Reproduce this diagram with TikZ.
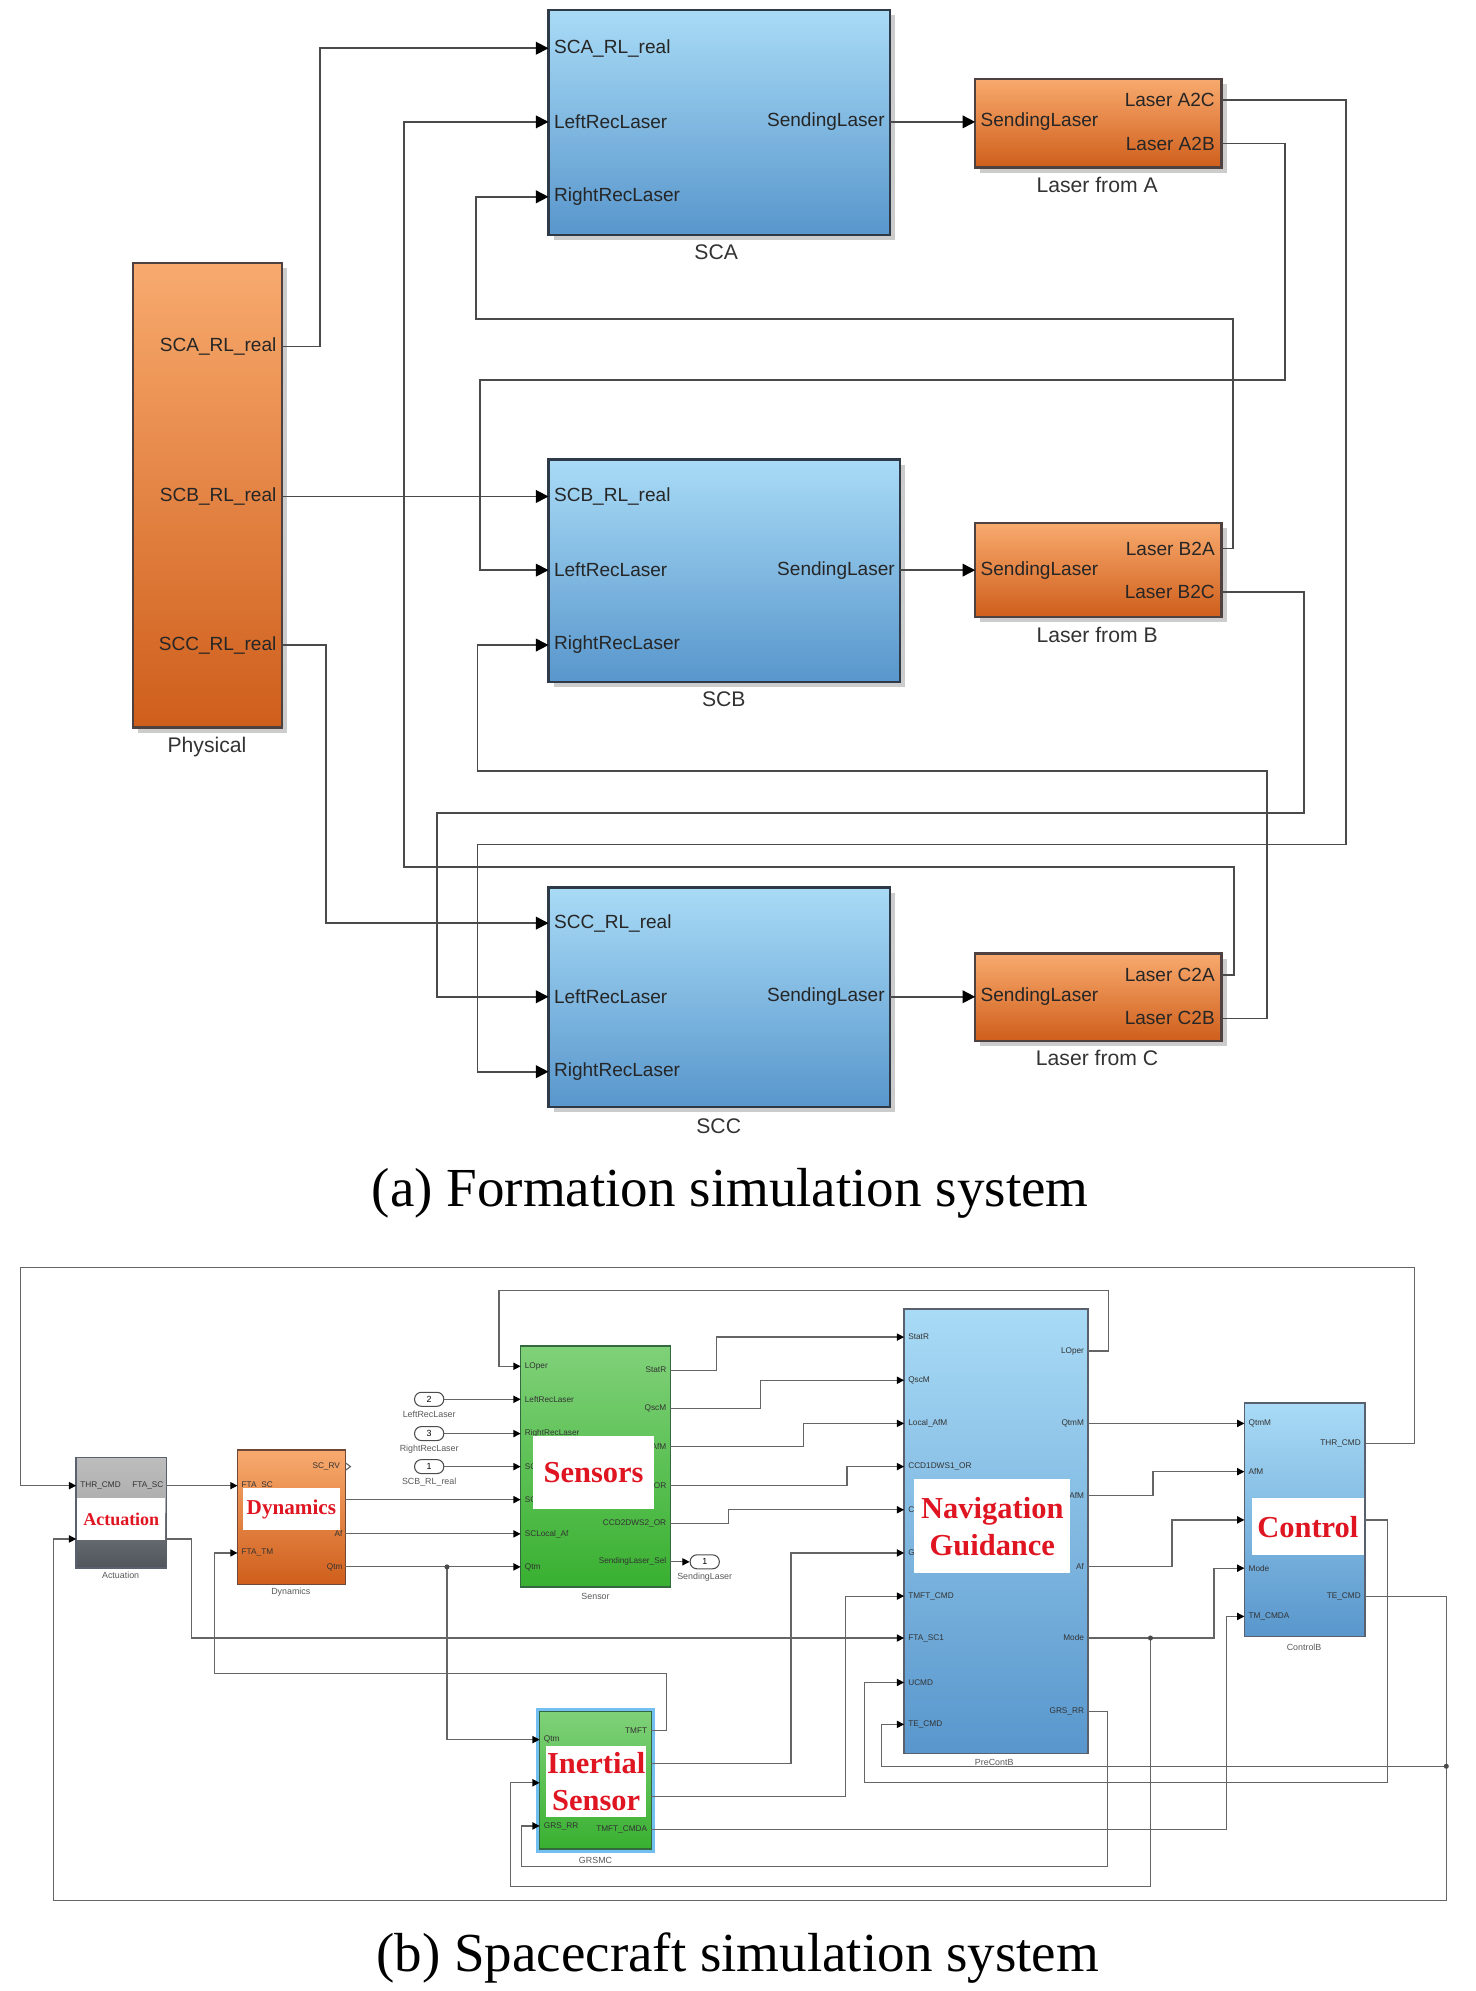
\documentclass[tikz,border=0pt]{standalone}
\usepackage{fontspec}
\setmainfont{Liberation Serif}
\setsansfont{Liberation Sans}
\usetikzlibrary{arrows.meta,fit,calc}
\definecolor{bluT}{HTML}{A9DBF6}
\definecolor{bluB}{HTML}{5896CC}
\definecolor{orT}{HTML}{F8AA6E}
\definecolor{orB}{HTML}{CF5E1B}
\definecolor{grT}{HTML}{80D179}
\definecolor{grB}{HTML}{38B030}
\definecolor{edg}{HTML}{2E3A48}
\definecolor{redl}{HTML}{E01522}
\definecolor{wire}{HTML}{4A4A4A}
\definecolor{hl}{HTML}{74BFF2}
\definecolor{acT}{HTML}{BDBDBD}
\definecolor{acM}{HTML}{767B82}
\definecolor{acB}{HTML}{50555C}
\newcommand{\blockA}[6]{%
  \fill[black!20] (#2+4,#3+4) rectangle (#4+4,#5+4);
  \node[fit={(#2,#3)(#4,#5)}, #6] (#1) {};}
\begin{document}
\begin{tikzpicture}[x=0.6pt,y=-0.6pt,
 pa/.style={font=\sffamily\fontsize{9}{10}\selectfont, inner sep=0pt, text=black!85},
 la/.style={font=\sffamily\fontsize{10}{12}\selectfont, inner sep=0pt, text=black!80},
 pb/.style={font=\sffamily\fontsize{3.9}{4.5}\selectfont, inner sep=0pt, text=black!80},
 lb/.style={font=\sffamily\fontsize{4.2}{5}\selectfont, inner sep=0pt, text=black!65},
 rl/.style={text=redl, inner sep=0pt, align=center},
 captxt/.style={font=\rmfamily\fontsize{26}{30}\selectfont, inner sep=0pt},
 wa/.style={draw=wire, line width=0.8pt, -{Triangle[length=6pt,width=6pt,color=black]}},
 wan/.style={draw=wire, line width=0.8pt},
 wb/.style={draw=wire!85, line width=0.55pt, -{Triangle[length=3.4pt,width=3.4pt,color=black]}},
 wbn/.style={draw=wire!85, line width=0.55pt},
 blu/.style={draw=edg, line width=1.1pt, top color=bluT, bottom color=bluB, inner sep=0pt},
 ora/.style={draw=edg!80!orB, line width=1.1pt, top color=orT, bottom color=orB, inner sep=0pt},
 blub/.style={draw=edg!80, line width=0.7pt, top color=bluT, bottom color=bluB, inner sep=0pt},
 orab/.style={draw=edg!60!orB, line width=0.7pt, top color=orT, bottom color=orB, inner sep=0pt},
 grn/.style={draw=edg!60!grB, line width=0.7pt, top color=grT, bottom color=grB, inner sep=0pt},
 wbox/.style={fill=white, inner sep=0pt},
 ioport/.style={draw=black!70, line width=0.5pt, rounded corners=3.2pt, minimum width=13.8pt, minimum height=6.6pt, inner sep=0pt, font=\sffamily\fontsize{4.2}{5}\selectfont},
 dot/.style={circle, fill=wire, inner sep=0pt, minimum size=2.4pt}
]
\useasboundingbox (0,0) rectangle (1162,1568);

% ================= (a) =================
\blockA{phy}{105}{207}{222}{573}{ora}
\node[pa,anchor=east] (phyl1) at (218,273) {SCA\_RL\_real};
\node[pa,anchor=east] (phyl2) at (218,391) {SCB\_RL\_real};
\node[pa,anchor=east] (phyl3) at (218,508) {SCC\_RL\_real};
\node[la] (phyn) at (163,588) {Physical};

\blockA{sca}{432}{8}{701}{185}{blu}
\node[pa,anchor=west] (scal1) at (436,38) {SCA\_RL\_real};
\node[pa,anchor=west] (scal2) at (436,96) {LeftRecLaser};
\node[pa,anchor=west] (scal3) at (436,155) {RightRecLaser};
\node[pa,anchor=east] (scal4) at (697,96) {SendingLaser};
\node[la] (scan) at (564,199) {SCA};

\blockA{scb}{432}{362}{709}{537}{blu}
\node[pa,anchor=west] (scbl1) at (436,391) {SCB\_RL\_real};
\node[pa,anchor=west] (scbl2) at (436,449) {LeftRecLaser};
\node[pa,anchor=west] (scbl3) at (436,508) {RightRecLaser};
\node[pa,anchor=east] (scbl4) at (705,449) {SendingLaser};
\node[la] (scbn) at (570,551) {SCB};

\blockA{scc}{432}{699}{701}{872}{blu}
\node[pa,anchor=west] (sccl1) at (436,727) {SCC\_RL\_real};
\node[pa,anchor=west] (sccl2) at (436,785) {LeftRecLaser};
\node[pa,anchor=west] (sccl3) at (436,844) {RightRecLaser};
\node[pa,anchor=east] (sccl4) at (697,785) {SendingLaser};
\node[la] (sccn) at (566,887) {SCC};

\blockA{lsa}{768}{62}{962}{132}{ora}
\node[pa,anchor=west] (lsal1) at (772,96) {SendingLaser};
\node[pa,anchor=east] (lsal2) at (957,79) {Laser A2C};
\node[pa,anchor=east] (lsal3) at (957,113) {Laser A2B};
\node[la] (lsan) at (864,146) {Laser from A};

\blockA{lsb}{768}{412}{962}{486}{ora}
\node[pa,anchor=west] (lsbl1) at (772,449) {SendingLaser};
\node[pa,anchor=east] (lsbl2) at (957,432) {Laser B2A};
\node[pa,anchor=east] (lsbl3) at (957,466) {Laser B2C};
\node[la] (lsbn) at (864,500) {Laser from B};

\blockA{lsc}{768}{751}{962}{820}{ora}
\node[pa,anchor=west] (lscl1) at (772,785) {SendingLaser};
\node[pa,anchor=east] (lscl2) at (957,768) {Laser C2A};
\node[pa,anchor=east] (lscl3) at (957,802) {Laser C2B};
\node[la] (lscn) at (864,833) {Laser from C};

% ports (a)
\coordinate (phyo1) at (222,273); \coordinate (phyo2) at (222,391); \coordinate (phyo3) at (222,508);
\coordinate (scai1) at (432,38); \coordinate (scai2) at (432,96); \coordinate (scai3) at (432,155); \coordinate (scao) at (701,96);
\coordinate (scbi1) at (432,391); \coordinate (scbi2) at (432,449); \coordinate (scbi3) at (432,508); \coordinate (scbo) at (709,449);
\coordinate (scci1) at (432,727); \coordinate (scci2) at (432,785); \coordinate (scci3) at (432,844); \coordinate (scco) at (701,785);
\coordinate (lsai) at (768,96); \coordinate (lsao1) at (962,79); \coordinate (lsao2) at (962,113);
\coordinate (lsbi) at (768,449); \coordinate (lsbo1) at (962,432); \coordinate (lsbo2) at (962,466);
\coordinate (lsci) at (768,785); \coordinate (lsco1) at (962,768); \coordinate (lsco2) at (962,802);

\draw[wa] (phyo1) -| (252,38) -- (scai1);
\draw[wa] (phyo2) -- (scbi1);
\draw[wa] (phyo3) -| (257,727) -- (scci1);
\draw[wa] (scao) -- (lsai);
\draw[wa] (scbo) -- (lsbi);
\draw[wa] (scco) -- (lsci);
\draw[wa] (lsao1) -| (1060,665) -| (376,844) -- (scci3);
\draw[wa] (lsao2) -| (1012,299) -| (378,449) -- (scbi2);
\draw[wa] (lsbo1) -| (971,251) -| (375,155) -- (scai3);
\draw[wa] (lsbo2) -| (1027,640) -| (344,785) -- (scci2);
\draw[wa] (lsco1) -| (972,683) -| (318,96) -- (scai2);
\draw[wa] (lsco2) -| (998,607) -| (376,508) -- (scbi3);

\node[captxt,anchor=base] (capa) at (575,950) {(a) Formation simulation system};

% ================= (b) =================
% Actuation
\fill[top color=acT, bottom color=acT!90!black] (60,1148) rectangle (131,1192);
\fill[top color=acM, bottom color=acB] (60,1192) rectangle (131,1235);
\node[fit={(60,1148)(131,1235)}, draw=edg!80, line width=0.7pt, inner sep=0pt] (act) {};
\node[pb,anchor=west] (actl1) at (63,1170) {THR\_CMD};
\node[pb,anchor=east] (actl2) at (129,1170) {FTA\_SC};
\node[fit={(61,1180)(130,1213)}, wbox] (actw) {};
\node[rl,font=\rmfamily\bfseries\fontsize{8.5}{9}\selectfont] (actt) at (actw.center) {Actuation};
\node[lb] (actn) at (95,1241) {Actuation};

% Dynamics
\node[fit={(187,1142)(272,1248)}, orab] (dyn) {};
\node[pb,anchor=east] (dynl1) at (268,1155) {SC\_RV};
\node[pb,anchor=west] (dynl2) at (190,1170) {FTA\_SC};
\node[pb,anchor=east] (dynl3) at (270,1208) {Af};
\node[pb,anchor=west] (dynl4) at (190,1223) {FTA\_TM};
\node[pb,anchor=east] (dynl5) at (270,1234) {Qtm};
\node[fit={(191,1172)(268,1205)}, wbox] (dynw) {};
\node[rl,font=\rmfamily\bfseries\fontsize{10}{11}\selectfont] (dynt) at (dynw.center) {Dynamics};
\node[lb] (dynn) at (229,1254) {Dynamics};
\draw[wbn] (272,1152) -- (276,1155) -- (272,1158);

% Sensor
\node[fit={(410,1060)(528,1250)}, grn] (sen) {};
\node[pb,anchor=west] (senl1) at (413,1076) {LOper};
\node[pb,anchor=west] (senl2) at (413,1102) {LeftRecLaser};
\node[pb,anchor=west] (senl3) at (413,1129) {RightRecLaser};
\node[pb,anchor=west] (senl4) at (413,1155) {SC};
\node[pb,anchor=west] (senl5) at (413,1181) {SC};
\node[pb,anchor=west] (senl6) at (413,1208) {SCLocal\_Af};
\node[pb,anchor=west] (senl7) at (413,1234) {Qtm};
\node[pb,anchor=east] (senr1) at (525,1079) {StatR};
\node[pb,anchor=east] (senr2) at (525,1109) {QscM};
\node[pb,anchor=east] (senr3) at (525,1139) {AfM};
\node[pb,anchor=east] (senr4) at (525,1170) {OR};
\node[pb,anchor=east] (senr5) at (525,1200) {CCD2DWS2\_OR};
\node[pb,anchor=east] (senr6) at (525,1230) {SendingLaser\_Sel};
\node[fit={(420,1131)(515,1188)}, wbox] (senw) {};
\node[rl,font=\rmfamily\bfseries\fontsize{14.4}{15}\selectfont] (sent) at (senw.center) {Sensors};
\node[lb] (senn) at (469,1257) {Sensor};

% GRSMC
\node[fit={(422,1345)(516,1459)}, fill=hl, inner sep=0pt] (grsh) {};
\node[fit={(425,1348)(513,1456)}, grn] (grs) {};
\node[pb,anchor=west] (grsl1) at (428,1370) {Qtm};
\node[pb,anchor=west] (grsl3) at (428,1438) {GRS\_RR};
\node[pb,anchor=east] (grsr1) at (510,1363) {TMFT};
\node[pb,anchor=east] (grsr4) at (510,1441) {TMFT\_CMDA};
\node[fit={(430,1375)(509,1431)}, wbox] (grsw) {};
\node[rl,font=\rmfamily\bfseries\fontsize{14.4}{17.4}\selectfont] (grst) at (grsw.center) {Inertial\\Sensor};
\node[lb] (grsn) at (469,1465) {GRSMC};

% PreContB
\node[fit={(712,1031)(857,1381)}, blub] (pcb) {};
\node[pb,anchor=west] (pcbl1) at (715,1053) {StatR};
\node[pb,anchor=west] (pcbl2) at (715,1087) {QscM};
\node[pb,anchor=west] (pcbl3) at (715,1121) {Local\_AfM};
\node[pb,anchor=west] (pcbl4) at (715,1155) {CCD1DWS1\_OR};
\node[pb,anchor=west] (pcbl5) at (715,1189) {C};
\node[pb,anchor=west] (pcbl6) at (715,1223) {G};
\node[pb,anchor=west] (pcbl7) at (715,1257) {TMFT\_CMD};
\node[pb,anchor=west] (pcbl8) at (715,1290) {FTA\_SC1};
\node[pb,anchor=west] (pcbl9) at (715,1325) {UCMD};
\node[pb,anchor=west] (pcbl10) at (715,1358) {TE\_CMD};
\node[pb,anchor=east] (pcbr1) at (854,1064) {LOper};
\node[pb,anchor=east] (pcbr2) at (854,1121) {QtmM};
\node[pb,anchor=east] (pcbr3) at (854,1178) {AfM};
\node[pb,anchor=east] (pcbr4) at (854,1234) {Af};
\node[pb,anchor=east] (pcbr5) at (854,1290) {Mode};
\node[pb,anchor=east] (pcbr6) at (854,1348) {GRS\_RR};
\node[fit={(720,1165)(843,1239)}, wbox] (pcbw) {};
\node[rl,font=\rmfamily\bfseries\fontsize{14.4}{17.4}\selectfont] (pcbt) at (pcbw.center) {Navigation\\Guidance};
\node[lb] (pcbn) at (783,1388) {PreContB};

% Control
\node[fit={(980,1105)(1075,1289)}, blub] (ctl) {};
\node[pb,anchor=west] (ctll1) at (983,1121) {QtmM};
\node[pb,anchor=west] (ctll2) at (983,1159) {AfM};
\node[pb,anchor=west] (ctll4) at (983,1235) {Mode};
\node[pb,anchor=west] (ctll5) at (983,1273) {TM\_CMDA};
\node[pb,anchor=east] (ctlr1) at (1072,1137) {THR\_CMD};
\node[pb,anchor=east] (ctlr3) at (1072,1257) {TE\_CMD};
\node[fit={(986,1180)(1074,1225)}, wbox] (ctlw) {};
\node[rl,font=\rmfamily\bfseries\fontsize{14.4}{15}\selectfont] (ctlt) at (ctlw.center) {Control};
\node[lb] (ctln) at (1027,1297) {ControlB};

% In/Out ports
\node[ioport] (ip2) at (338,1102) {2};
\node[ioport] (ip3) at (338,1129) {3};
\node[ioport] (ip1) at (338,1155) {1};
\node[lb] (ip2n) at (338,1114) {LeftRecLaser};
\node[lb] (ip3n) at (338,1141) {RightRecLaser};
\node[lb] (ip1n) at (338,1167) {SCB\_RL\_real};
\node[ioport] (op1) at (555,1230) {1};
\node[lb] (op1n) at (555,1242) {SendingLaser};

% port coordinates (b)
\coordinate (acti1) at (60,1170); \coordinate (acti2) at (60,1212);
\coordinate (acto1) at (131,1170); \coordinate (acto2) at (131,1212);
\coordinate (dyni1) at (187,1170); \coordinate (dyni2) at (187,1223);
\coordinate (dyno1) at (272,1181); \coordinate (dyno2) at (272,1208); \coordinate (dyno3) at (272,1234);
\coordinate (seni1) at (410,1076); \coordinate (seni2) at (410,1102); \coordinate (seni3) at (410,1129);
\coordinate (seni4) at (410,1155); \coordinate (seni5) at (410,1181); \coordinate (seni6) at (410,1208); \coordinate (seni7) at (410,1234);
\coordinate (seno1) at (528,1079); \coordinate (seno2) at (528,1109); \coordinate (seno3) at (528,1139);
\coordinate (seno4) at (528,1170); \coordinate (seno5) at (528,1200); \coordinate (seno6) at (528,1230);
\coordinate (grsi1) at (425,1370); \coordinate (grsi2) at (425,1404); \coordinate (grsi3) at (425,1438);
\coordinate (grso1) at (513,1363); \coordinate (grso2) at (513,1389); \coordinate (grso3) at (513,1415); \coordinate (grso4) at (513,1441);
\coordinate (pcbi1) at (712,1053); \coordinate (pcbi2) at (712,1087); \coordinate (pcbi3) at (712,1121); \coordinate (pcbi4) at (712,1155);
\coordinate (pcbi5) at (712,1189); \coordinate (pcbi6) at (712,1223); \coordinate (pcbi7) at (712,1257); \coordinate (pcbi8) at (712,1290);
\coordinate (pcbi9) at (712,1325); \coordinate (pcbi10) at (712,1358);
\coordinate (pcbo1) at (857,1064); \coordinate (pcbo2) at (857,1121); \coordinate (pcbo3) at (857,1178);
\coordinate (pcbo4) at (857,1234); \coordinate (pcbo5) at (857,1290); \coordinate (pcbo6) at (857,1348);
\coordinate (ctli1) at (980,1121); \coordinate (ctli2) at (980,1159); \coordinate (ctli3) at (980,1197);
\coordinate (ctli4) at (980,1235); \coordinate (ctli5) at (980,1273);
\coordinate (ctlo1) at (1075,1137); \coordinate (ctlo2) at (1075,1197); \coordinate (ctlo3) at (1075,1257);
\coordinate (jq) at (352,1234); \coordinate (jm) at (906,1290); \coordinate (jt) at (1139,1391);

% wires (b)
\draw[wb] (ctlo1) -| (1114,998) -| (16,1170) -- (acti1);
\draw[wb] (acto1) -- (dyni1);
\draw[wb] (acto2) -| (151,1290) -- (pcbi8);
\draw[wb] (dyno1) -- (seni5);
\draw[wb] (dyno2) -- (seni6);
\draw[wb] (dyno3) -- (seni7);
\draw[wb] (jq) |- (grsi1);
\draw[wb] (ip2.east) -- (seni2);
\draw[wb] (ip3.east) -- (seni3);
\draw[wb] (ip1.east) -- (seni4);
\draw[wb] (pcbo1) -| (873,1016) -| (393,1076) -- (seni1);
\draw[wb] (seno1) -| (564,1053) -- (pcbi1);
\draw[wb] (seno2) -| (599,1087) -- (pcbi2);
\draw[wb] (seno3) -| (633,1121) -- (pcbi3);
\draw[wb] (seno4) -| (667,1155) -- (pcbi4);
\draw[wb] (seno5) -| (574,1189) -- (pcbi5);
\draw[wb] (seno6) -- (op1.west);
\draw[wb] (grso2) -| (623,1223) -- (pcbi6);
\draw[wb] (grso3) -| (666,1257) -- (pcbi7);
\draw[wb] (grso1) -| (525,1318) -| (169,1223) -- (dyni2);
\draw[wb] (grso4) -| (966,1273) -- (ctli5);
\draw[wb] (pcbo2) -- (ctli1);
\draw[wb] (pcbo3) -| (908,1159) -- (ctli2);
\draw[wb] (pcbo4) -| (923,1197) -- (ctli3);
\draw[wb] (pcbo5) -| (956,1235) -- (ctli4);
\draw[wb] (jm) |- (402,1486) |- (grsi2);
\draw[wb] (pcbo6) -| (872,1470) -| (411,1438) -- (grsi3);
\draw[wb] (ctlo2) -| (1093,1404) -| (681,1325) -- (pcbi9);
\draw[wb] (ctlo3) -| (1139,1497) -| (42,1212) -- (acti2);
\draw[wb] (jt) -| (694,1358) -- (pcbi10);
\node[dot] (djq) at (jq) {};
\node[dot] (djm) at (jm) {};
\node[dot] (djt) at (jt) {};

\node[captxt,anchor=base] (capb) at (581,1553) {(b) Spacecraft simulation system};
\end{tikzpicture}
\end{document}
